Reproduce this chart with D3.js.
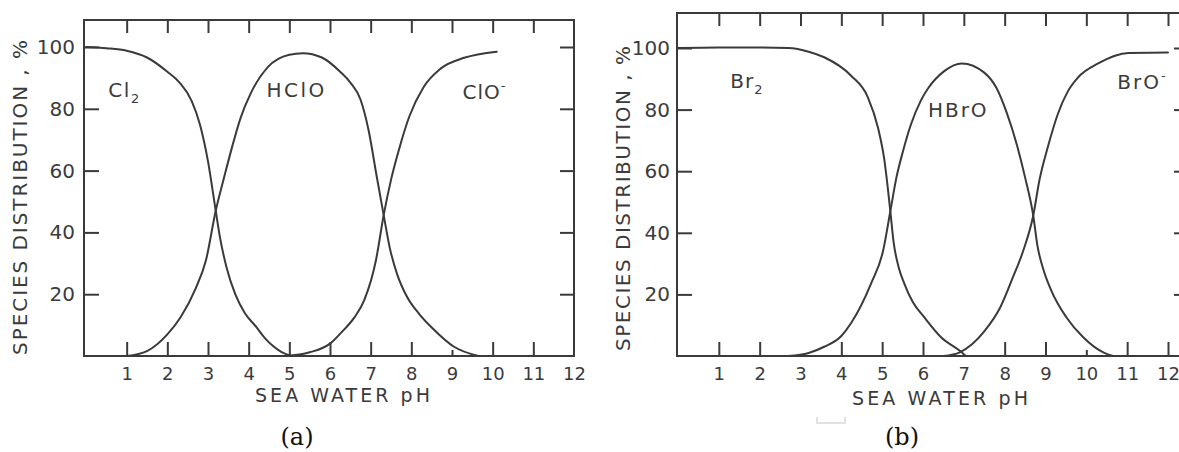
<!DOCTYPE html>
<html>
<head>
<meta charset="utf-8">
<script src="https://cdn.jsdelivr.net/npm/d3@7"></script>
<style>
  html, body { margin: 0; padding: 0; background: #fff; }
  svg { display: block; }
  text { font-family: "DejaVu Sans", "Liberation Sans", sans-serif; fill: #3b3b3b; }
</style>
</head>
<body>
<svg id="chart" width="1179" height="452"></svg>
<script>
// ---- axis ticks ----
const phTicks = [1, 2, 3, 4, 5, 6, 7, 8, 9, 10, 11, 12];
const pctTicks = [20, 40, 60, 80, 100];

// ---- (a) chlorine species, [pH, % of total] ----
const cl2Curve = [[0, 100], [0.5, 99.6], [1, 98.8], [1.5, 96.6], [2, 92], [2.3, 88.5], [2.6, 82.5],
  [2.8, 75], [3.0, 63], [3.19, 47], [3.3, 38], [3.45, 29], [3.67, 20], [3.9, 14], [4.18, 9.5],
  [4.4, 5.8], [4.6, 3.2], [4.8, 1.3], [5.05, 0]];
const hcloCurve = [[1, 0], [1.5, 1.6], [2, 7], [2.33, 12.6], [2.7, 22], [2.95, 31], [3.19, 47],
  [3.4, 58], [3.6, 68], [3.8, 77], [4.05, 85], [4.47, 93.5], [5.0, 97.5], [5.33, 98], [5.8, 96.6],
  [6.25, 92], [6.5, 88.5], [6.75, 83], [6.95, 73], [7.15, 58], [7.32, 45.6], [7.47, 35],
  [7.65, 26.5], [7.9, 19], [8.2, 13.5], [8.52, 9], [9.05, 3], [9.65, 0]];
const cloCurve = [[4.9, 0], [5.5, 1.2], [6, 4], [6.27, 7.5], [6.6, 12.5], [6.84, 18], [7.13, 31],
  [7.32, 45.6], [7.5, 57], [7.7, 67], [7.95, 77.5], [8.3, 87], [8.72, 93], [9.3, 96.5], [10.1, 98.5]];

// ---- (b) bromine species, [pH, % of total] ----
const br2Curve = [[0, 100], [1, 100.2], [2, 100.2], [2.7, 100], [3.2, 98.8], [3.58, 97],
  [4.24, 91], [4.65, 84], [4.9, 74], [5.05, 64], [5.2, 47], [5.28, 37], [5.4, 29], [5.54, 23.6],
  [5.75, 17.5], [6.03, 12.6], [6.45, 6], [6.94, 1.3], [7.05, 0]];
const hbroCurve = [[2.7, 0], [3.2, 1], [3.58, 3], [4.0, 6.5], [4.24, 10.7], [4.73, 23.6],
  [5.02, 34], [5.2, 47], [5.35, 58], [5.5, 66], [5.7, 75], [5.95, 83], [6.13, 87], [6.52, 92.5],
  [6.95, 95], [7.5, 92], [7.8, 87], [8.05, 79], [8.3, 68.5], [8.5, 58], [8.7, 45.6], [8.8, 36],
  [8.95, 28], [9.15, 21], [9.51, 12.6], [9.93, 6], [10.44, 1], [10.65, 0]];
const broCurve = [[6.5, 0], [6.9, 1.2], [7.2, 3.8], [7.5, 8], [7.9, 16], [8.2, 25.5], [8.45, 34],
  [8.7, 45.6], [8.85, 57], [9.05, 67.5], [9.3, 78.5], [9.55, 86], [9.8, 90.5], [10.29, 95],
  [11.03, 98.4], [12, 98.5]];

const ink = "#3a3a3a";
const svg = d3.select("#chart");

const panels = [
  {
    tag: "(a)", tagX: 297,
    xRange: [86, 574], yRange: [356, 47],
    frameLeft: 84, frameRight: 574, frameTop: 20,
    topTicks: [1, 2, 3, 4, 5, 6, 7, 8, 9, 10, 11],
    bottomTicks: [1, 2, 3, 4, 5, 6, 7, 8, 9, 10, 11],
    shortTicks: [9],
    yPad: 9,
    yTitle: { x: 27, y0: 355, len: 315 },
    xTitle: { x0: 255, len: 175, y: 402 },
    curves: [cl2Curve, hcloCurve, cloCurve],
    labels: [
      { ph: 0.55, pct: 83.8, main: "Cl", sub: "2", spacing: 1.5 },
      { ph: 4.44, pct: 83.8, main: "HClO", spacing: 2.5 },
      { ph: 9.26, pct: 83.2, main: "ClO", sup: "-", spacing: 1 }
    ]
  },
  {
    tag: "(b)", tagX: 902,
    xRange: [678, 1168], yRange: [356, 48],
    frameLeft: 677, frameRight: 1188, frameTop: 13,
    topTicks: [1, 2, 3, 4, 5, 6, 7, 8, 9, 10, 11, 12],
    bottomTicks: [1, 2, 4, 5, 6, 8, 9, 10, 11, 12],
    shortTicks: [10],
    yPad: 7,
    yTitle: { x: 630, y0: 351, len: 305 },
    xTitle: { x0: 852, len: 176, y: 405 },
    curves: [br2Curve, hbroCurve, broCurve],
    labels: [
      { ph: 1.28, pct: 87, main: "Br", sub: "2", spacing: 1 },
      { ph: 6.12, pct: 77.6, main: "HBrO", spacing: 2 },
      { ph: 10.76, pct: 86.7, main: "BrO", sup: "-", spacing: 2 }
    ]
  }
];

function styleAxis(sel) {
  sel.select(".domain").remove();
  sel.selectAll(".tick line").attr("stroke", ink).attr("stroke-width", 2);
}

panels.forEach(p => {
  const x = d3.scaleLinear().domain([0, 12]).range(p.xRange);
  const y = d3.scaleLinear().domain([0, 100]).range(p.yRange);
  const g = svg.append("g");

  // frame
  g.append("rect")
    .attr("x", p.frameLeft).attr("y", p.frameTop)
    .attr("width", p.frameRight - p.frameLeft).attr("height", y(0) - p.frameTop)
    .attr("fill", "none").attr("stroke", ink).attr("stroke-width", 2);

  // inward tick marks on all four sides
  g.append("g").attr("transform", `translate(0,${p.frameTop})`)
    .call(d3.axisTop(x).tickValues(p.topTicks).tickSize(-13).tickFormat(""))
    .call(styleAxis);
  const bt = g.append("g").attr("transform", `translate(0,${y(0)})`)
    .call(d3.axisBottom(x).tickValues(p.bottomTicks).tickSize(-14).tickFormat(""))
    .call(styleAxis);
  bt.selectAll(".tick line").filter(d => p.shortTicks.includes(d)).attr("y2", -6);
  g.append("g").attr("transform", `translate(${p.frameRight},0)`)
    .call(d3.axisRight(y).tickValues(pctTicks).tickSize(-14).tickFormat(""))
    .call(styleAxis);

  // left axis with labels
  const la = g.append("g").attr("transform", `translate(${p.frameLeft},0)`)
    .call(d3.axisLeft(y).tickValues(pctTicks).tickSize(-15).tickPadding(p.yPad))
    .call(styleAxis);
  la.selectAll("text").attr("font-size", 20).attr("fill", "#3b3b3b")
    .attr("font-family", "DejaVu Sans, sans-serif");

  // pH labels under the axis
  const xa = g.append("g").attr("transform", `translate(0,${y(0)})`)
    .call(d3.axisBottom(x).tickValues(phTicks).tickSize(0).tickPadding(11))
    .call(styleAxis);
  xa.selectAll("text").attr("font-size", 18).attr("fill", "#3b3b3b")
    .attr("font-family", "DejaVu Sans, sans-serif");

  // axis titles
  g.append("text")
    .attr("transform", `translate(${p.yTitle.x},${p.yTitle.y0}) rotate(-90)`)
    .attr("font-size", 20)
    .attr("textLength", p.yTitle.len).attr("lengthAdjust", "spacing")
    .text("SPECIES DISTRIBUTION , %");
  g.append("text")
    .attr("x", p.xTitle.x0).attr("y", p.xTitle.y)
    .attr("font-size", 19)
    .attr("textLength", p.xTitle.len).attr("lengthAdjust", "spacing")
    .text("SEA WATER pH");

  // species curves
  const line = d3.line().x(d => x(d[0])).y(d => y(d[1])).curve(d3.curveMonotoneX);
  g.selectAll("path.curve").data(p.curves).join("path")
    .attr("class", "curve")
    .attr("d", line)
    .attr("fill", "none").attr("stroke", ink).attr("stroke-width", 2)
    .attr("stroke-linejoin", "round").attr("stroke-linecap", "round");

  // species names
  p.labels.forEach(l => {
    const t = g.append("text")
      .attr("x", x(l.ph)).attr("y", y(l.pct))
      .attr("font-size", 20).attr("letter-spacing", l.spacing);
    t.append("tspan").text(l.main);
    if (l.sub) t.append("tspan").attr("font-size", 13).attr("dy", 6).text(l.sub);
    if (l.sup) t.append("tspan").attr("font-size", 13).attr("dy", -9).text(l.sup);
  });

  // panel caption
  g.append("text")
    .attr("x", p.tagX).attr("y", 445).attr("text-anchor", "middle")
    .style("font-family", "'DejaVu Serif', 'Liberation Serif', serif")
    .attr("font-size", 24).style("fill", "#111")
    .text(p.tag);
});

// faint bracket printed under the second panel
svg.append("path")
  .attr("d", "M817,417 V423 H845 V417")
  .attr("fill", "none").attr("stroke", "#e2e2e2").attr("stroke-width", 2);
</script>
</body>
</html>
